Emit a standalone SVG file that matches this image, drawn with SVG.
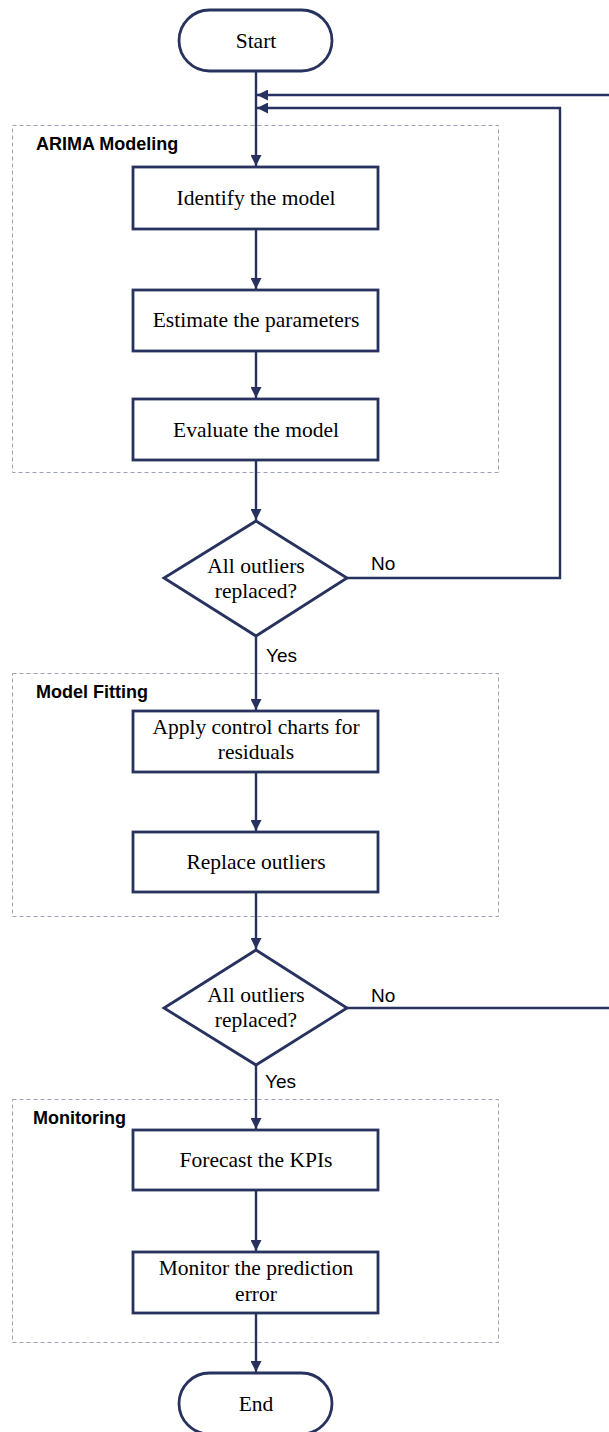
<svg xmlns="http://www.w3.org/2000/svg" width="609" height="1432" viewBox="0 0 609 1432">
<style>
.node{fill:#fff;stroke:#27325e;stroke-width:2.8}
.grp{fill:none;stroke:#9aa0b8;stroke-width:1;stroke-dasharray:4 3}
.t{font-family:"Liberation Serif","Times New Roman",serif;font-size:21.5px;fill:#000;text-anchor:middle}
.g{font-family:"Liberation Sans",Arial,sans-serif;font-size:18px;font-weight:bold;fill:#000}
.lb{font-family:"Liberation Sans",Arial,sans-serif;font-size:19px;fill:#000}
.c{fill:none;stroke:#27325e;stroke-width:2.4}
</style>
<defs>
<marker id="ah" viewBox="0 0 10 10" refX="10" refY="5" markerWidth="11" markerHeight="11" markerUnits="userSpaceOnUse" orient="auto">
<path d="M0,0 L10,5 L0,10 z" fill="#27325e"/>
</marker>
</defs>
<rect width="609" height="1432" fill="#fff"/>
<g id="groups">
<g id="grp-arima"><rect class="grp" x="12.5" y="125.5" width="486" height="347"/><text class="g" x="36" y="150">ARIMA Modeling</text></g>
<g id="grp-fitting"><rect class="grp" x="12.5" y="673.5" width="486" height="243"/><text class="g" x="36" y="698">Model Fitting</text></g>
<g id="grp-monitor"><rect class="grp" x="12.5" y="1099.5" width="486" height="243"/><text class="g" x="33" y="1124">Monitoring</text></g>
</g>
<g id="connectors">
<line class="c" x1="256" y1="71" x2="256" y2="166" marker-end="url(#ah)"/>
<line class="c" x1="609" y1="95" x2="257" y2="95" marker-end="url(#ah)"/>
<polyline class="c" points="347,578 560,578 560,108 257,108" marker-end="url(#ah)"/>
<line class="c" x1="256" y1="229" x2="256" y2="289" marker-end="url(#ah)"/>
<line class="c" x1="256" y1="351" x2="256" y2="398" marker-end="url(#ah)"/>
<line class="c" x1="256" y1="460" x2="256" y2="520" marker-end="url(#ah)"/>
<line class="c" x1="256" y1="636" x2="256" y2="710" marker-end="url(#ah)"/>
<line class="c" x1="256" y1="772" x2="256" y2="831" marker-end="url(#ah)"/>
<line class="c" x1="256" y1="892" x2="256" y2="949" marker-end="url(#ah)"/>
<line class="c" x1="347" y1="1008" x2="609" y2="1008"/>
<line class="c" x1="256" y1="1065" x2="256" y2="1129" marker-end="url(#ah)"/>
<line class="c" x1="256" y1="1190" x2="256" y2="1251" marker-end="url(#ah)"/>
<line class="c" x1="256" y1="1313" x2="256" y2="1372" marker-end="url(#ah)"/>
<text class="lb" x="371" y="570">No</text>
<text class="lb" x="266" y="662">Yes</text>
<text class="lb" x="371" y="1002">No</text>
<text class="lb" x="265" y="1088">Yes</text>
</g>
<g id="start"><rect class="node" x="179" y="10" width="153" height="61" rx="30.5"/><text class="t" x="256" y="48">Start</text></g>
<g id="identify"><rect class="node" x="133" y="167" width="245" height="62"/><text class="t" x="256" y="205">Identify the model</text></g>
<g id="estimate"><rect class="node" x="133" y="290" width="245" height="61"/><text class="t" x="256" y="327">Estimate the parameters</text></g>
<g id="evaluate"><rect class="node" x="133" y="399" width="245" height="61"/><text class="t" x="256" y="437">Evaluate the model</text></g>
<g id="decision1"><polygon class="node" points="256,521 347,578 256,636 164,578"/><text class="t" x="256" y="573">All outliers</text><text class="t" x="256" y="598">replaced?</text></g>
<g id="apply"><rect class="node" x="133" y="711" width="245" height="61"/><text class="t" x="256" y="734">Apply control charts for</text><text class="t" x="256" y="759">residuals</text></g>
<g id="replace"><rect class="node" x="133" y="832" width="245" height="60"/><text class="t" x="256" y="869">Replace outliers</text></g>
<g id="decision2"><polygon class="node" points="256,950 347,1008 256,1065 164,1008"/><text class="t" x="256" y="1002">All outliers</text><text class="t" x="256" y="1027">replaced?</text></g>
<g id="forecast"><rect class="node" x="133" y="1130" width="245" height="60"/><text class="t" x="256" y="1167">Forecast the KPIs</text></g>
<g id="monitor"><rect class="node" x="133" y="1252" width="245" height="61"/><text class="t" x="256" y="1275">Monitor the prediction</text><text class="t" x="256" y="1301">error</text></g>
<g id="end"><rect class="node" x="179" y="1373" width="153" height="61" rx="30.5"/><text class="t" x="256" y="1411">End</text></g>
</svg>
